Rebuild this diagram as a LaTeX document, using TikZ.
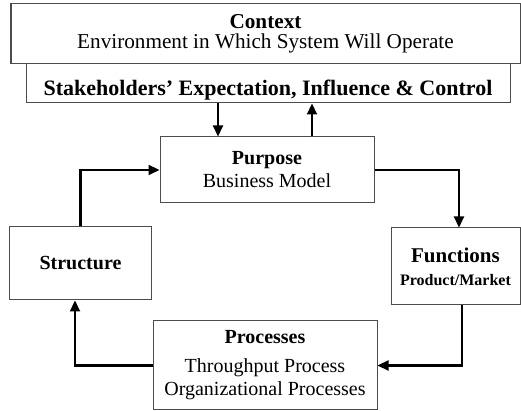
\documentclass[tikz,border=0pt]{standalone}
\usepackage{fontspec}
\setmainfont{Liberation Serif}
\usetikzlibrary{arrows.meta,positioning,calc}

\begin{document}
\begin{tikzpicture}[x=0.5pt, y=-0.5pt,
  box/.style={draw=black!70, line width=0.5pt, fill=white, align=center, inner sep=0pt, font=\fontsize{10}{11.5}\selectfont},
  arr/.style={line width=1.1pt, -{Triangle[length=5.5pt,width=5pt]}}]
  \useasboundingbox (0,0) rectangle (521,411);

  \node[box, minimum width=242pt, minimum height=19.5pt, text height=14pt, text depth=2pt, font=\fontsize{11}{12}\selectfont\bfseries] (stake) at (268,83.5) {Stakeholders’ Expectation, Influence \& Control};
  \node[box, minimum width=254.5pt, minimum height=30pt, font=\fontsize{10.6}{10}\selectfont] (context) at (265.5,34) {\textbf{Context}\\Environment in Which System Will Operate};
  \node[box, minimum width=107pt, minimum height=33pt] (purpose) at (267,170) {\textbf{Purpose}\\Business Model};
  \node[box, minimum width=70.5pt, minimum height=36.5pt] (structure) at (80.5,263.5) {\textbf{Structure}};
  \node[box, minimum width=64.5pt, minimum height=38.5pt] (functions) at (455.5,266.5) {\textbf{\fontsize{10.5}{12}\selectfont Functions}\\\textbf{\fontsize{8}{10}\selectfont Product/Market}};
  \node[box, minimum width=112pt, minimum height=44.5pt] (processes) at (265,365.5) {\textbf{Processes}\\[3pt]Throughput Process\\Organizational Processes};

  \coordinate (dn) at (218,0);
  \coordinate (up) at (312,0);

  \draw[arr] (dn |- stake.south) -- (dn |- purpose.north);
  \draw[arr] (up |- purpose.north) -- (up |- stake.south);
  \draw[arr] (structure.north) |- (purpose.west);
  \draw[arr] (purpose.east) -| ([xshift=1.75pt]functions.north);
  \draw[arr] ([xshift=3.25pt]functions.south) |- (processes.east);
  \draw[arr] (processes.west) -| ([xshift=-2.75pt]structure.south);
\end{tikzpicture}
\end{document}
